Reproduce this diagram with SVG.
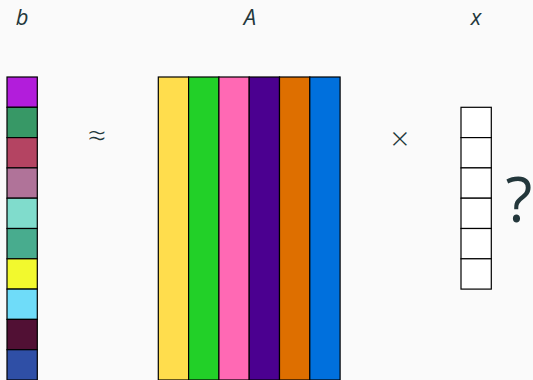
<svg xmlns="http://www.w3.org/2000/svg" width="533" height="380" viewBox="0 0 533 380">
<style>
.t{font-family:"Open Sans","DejaVu Sans",sans-serif;fill:#23373b}
.lbl{font-size:22px;font-style:italic}
.op{font-size:32px;font-weight:300}
.c{stroke:#000;stroke-width:1.2}
</style>
<rect width="533" height="380" fill="#fafafa"/>
<text class="t lbl" x="22" y="25" text-anchor="middle">b</text>
<text class="t lbl" x="250" y="25" text-anchor="middle">A</text>
<text class="t lbl" x="476" y="25" text-anchor="middle">x</text>
<g id="b">
<rect class="c" x="7" y="77" width="30.3" height="30.3" fill="#b21ddb"/>
<rect class="c" x="7" y="107.3" width="30.3" height="30.3" fill="#379866"/>
<rect class="c" x="7" y="137.6" width="30.3" height="30.3" fill="#b44462"/>
<rect class="c" x="7" y="167.9" width="30.3" height="30.3" fill="#b07399"/>
<rect class="c" x="7" y="198.2" width="30.3" height="30.3" fill="#80dccc"/>
<rect class="c" x="7" y="228.5" width="30.3" height="30.3" fill="#48ac8e"/>
<rect class="c" x="7" y="258.8" width="30.3" height="30.3" fill="#f2f92e"/>
<rect class="c" x="7" y="289.1" width="30.3" height="30.3" fill="#6fdcf9"/>
<rect class="c" x="7" y="319.4" width="30.3" height="30.3" fill="#511034"/>
<rect class="c" x="7" y="349.7" width="30.3" height="30.3" fill="#2f4fa6"/>
</g>
<g id="approx"><text class="t op" x="97" y="147" text-anchor="middle">≈</text></g>
<g id="A">
<rect class="c" x="158.3" y="77" width="30.3" height="303" fill="#ffdd4d"/>
<rect class="c" x="188.6" y="77" width="30.3" height="303" fill="#22d028"/>
<rect class="c" x="218.9" y="77" width="30.3" height="303" fill="#ff69b4"/>
<rect class="c" x="249.2" y="77" width="30.3" height="303" fill="#4b0090"/>
<rect class="c" x="279.5" y="77" width="30.3" height="303" fill="#de6f00"/>
<rect class="c" x="309.8" y="77" width="30.3" height="303" fill="#0070dd"/>
</g>
<g id="times"><text class="t op" x="400" y="150" text-anchor="middle">×</text></g>
<g id="x">
<rect class="c" x="461" y="107.3" width="30.3" height="30.3" fill="#fff"/>
<rect class="c" x="461" y="137.6" width="30.3" height="30.3" fill="#fff"/>
<rect class="c" x="461" y="167.9" width="30.3" height="30.3" fill="#fff"/>
<rect class="c" x="461" y="198.2" width="30.3" height="30.3" fill="#fff"/>
<rect class="c" x="461" y="228.5" width="30.3" height="30.3" fill="#fff"/>
<rect class="c" x="461" y="258.8" width="30.3" height="30.3" fill="#fff"/>
</g>
<g id="q"><text class="t" x="519" y="222" font-size="62" text-anchor="middle">?</text></g>
</svg>
